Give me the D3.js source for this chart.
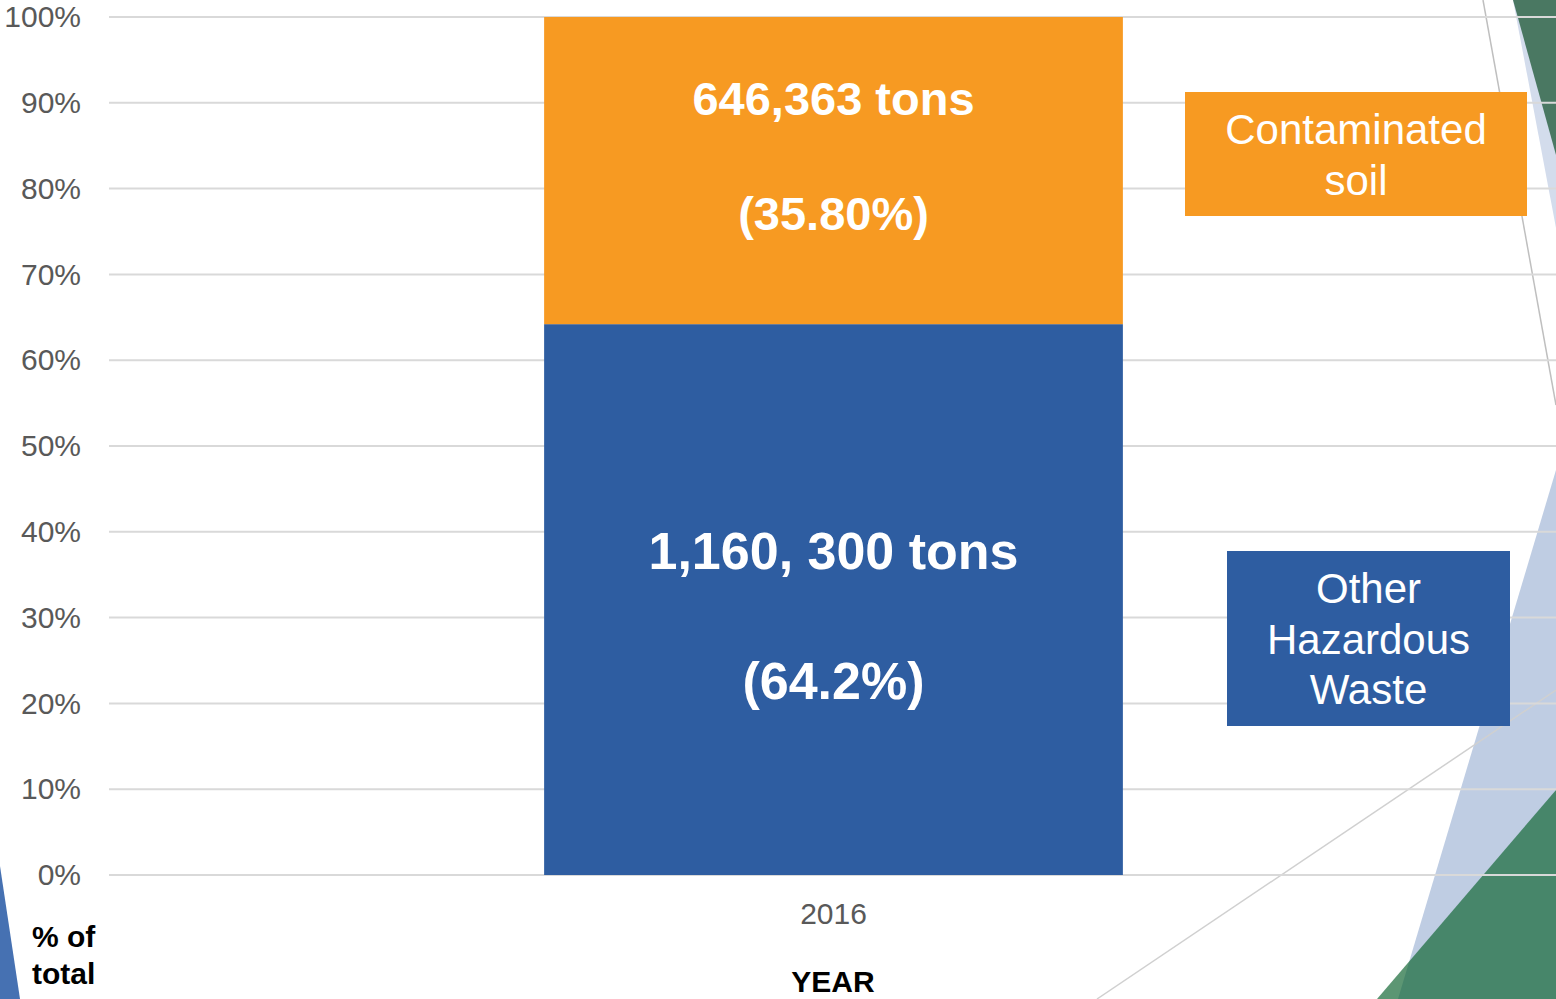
<!DOCTYPE html>
<html>
<head>
<meta charset="utf-8">
<script src="https://cdn.jsdelivr.net/npm/d3@7/dist/d3.min.js"></script>
<style>
  html, body { margin: 0; padding: 0; background: #ffffff; }
  svg { display: block; }
  text { font-family: "Liberation Sans", Arial, Helvetica, sans-serif; }
</style>
</head>
<body>
<svg id="chart" width="1556" height="999"></svg>
<script>
// ---- data ----
const categories = ["2016"];
const seriesNames = ["Other Hazardous Waste", "Contaminated soil"];
const seriesShares = [64.2, 35.8];               // % of total, stacked bottom to top
const tonnageLabels = ["1,160, 300 tons", "646,363 tons"];
const shareLabels = ["(64.2%)", "(35.80%)"];
const legendLines = [["Other", "Hazardous", "Waste"], ["Contaminated", "soil"]];
const yTicks = [0, 10, 20, 30, 40, 50, 60, 70, 80, 90, 100];

// ---- styling / layout ----
const W = 1556, H = 999;
const colors = ["#2E5DA1", "#F79A22"];
const svg = d3.select("#chart");

// decorative slide shapes behind the chart
const deco = svg.append("g");
deco.append("polygon").attr("points", "1513,0 1556,0 1556,228").attr("fill", "#d3dcec");
deco.append("polygon").attr("points", "1513,0 1556,0 1556,155").attr("fill", "#4a7862");
deco.append("line").attr("x1", 1483).attr("y1", 0).attr("x2", 1556).attr("y2", 405)
  .attr("stroke", "#bfbfbf").attr("stroke-width", 1.5);
deco.append("polygon").attr("points", "1556,470 1556,999 1398,999").attr("fill", "#bfcde3");
deco.append("line").attr("x1", 1097).attr("y1", 999).attr("x2", 1556).attr("y2", 690)
  .attr("stroke", "#d0d0d0").attr("stroke-width", 1.5);
deco.append("polygon").attr("points", "1556,790 1556,999 1377,999")
  .attr("fill", "#0f6431").attr("fill-opacity", 0.68);
deco.append("polygon").attr("points", "0,866 20,999 0,999").attr("fill", "#4671b2");

// ---- scales ----
const y = d3.scaleLinear().domain([0, 100]).range([875, 17]);
const x = d3.scaleBand().domain(categories).range([110, 1557])
  .paddingInner(0.4286).paddingOuter(0.4286);

// gridlines
svg.append("g").selectAll("line").data(yTicks).join("line")
  .attr("x1", 109).attr("x2", W)
  .attr("y1", d => y(d)).attr("y2", d => y(d))
  .attr("stroke", "#d9d9d9").attr("stroke-width", 2);

// y axis labels
const yAxis = d3.axisLeft(y).tickValues(yTicks).tickFormat(d => d + "%").tickSize(0).tickPadding(0);
const yg = svg.append("g").attr("transform", "translate(81,0)").call(yAxis);
yg.select(".domain").remove();
yg.selectAll("text").attr("font-size", 30).attr("fill", "#595959")
  .attr("font-family", "'Liberation Sans', Arial, sans-serif").attr("dy", "0.32em");

// x axis label
const xAxis = d3.axisBottom(x).tickSize(0).tickPadding(0);
const xg = svg.append("g").attr("transform", "translate(0,924)").call(xAxis);
xg.select(".domain").remove();
xg.selectAll("text").attr("font-size", 30).attr("fill", "#595959")
  .attr("font-family", "'Liberation Sans', Arial, sans-serif").attr("dy", 0);

// ---- stacked bars ----
const stackRows = categories.map(c => {
  const row = { cat: c };
  seriesNames.forEach((s, i) => row[s] = seriesShares[i]);
  return row;
});
const stacked = d3.stack().keys(seriesNames)(stackRows);

const layers = svg.append("g").selectAll("g").data(stacked).join("g")
  .attr("fill", (d, i) => colors[i]);
layers.selectAll("rect").data(d => d).join("rect")
  .attr("x", d => x(d.data.cat))
  .attr("width", x.bandwidth())
  .attr("y", d => y(d[1]))
  .attr("height", d => y(d[0]) - y(d[1]));

// value labels inside segments: [offset of segment centre, line gap, font size]
const labelLayout = [[16, 130, 52], [-15, 115, 47]];
stacked.forEach((layer, i) => {
  const seg = layer[0];
  const cx = x(seg.data.cat) + x.bandwidth() / 2;
  const cy = (y(seg[0]) + y(seg[1])) / 2 + labelLayout[i][0];
  const gap = labelLayout[i][1], fs = labelLayout[i][2];
  [tonnageLabels[i], shareLabels[i]].forEach((t, k) => {
    svg.append("text")
      .attr("x", cx).attr("y", cy + (k === 0 ? -gap / 2 : gap / 2))
      .attr("dy", "0.36em")
      .attr("text-anchor", "middle").attr("font-weight", "bold")
      .attr("font-size", fs).attr("fill", "#ffffff").text(t);
  });
});

// ---- legend boxes ----
const legendBoxes = [
  { x: 1227, y: 551, w: 283, h: 175, first: 603 },
  { x: 1185, y: 92, w: 342, h: 124, first: 144 }
];
legendBoxes.forEach((b, i) => {
  svg.append("rect").attr("x", b.x).attr("y", b.y).attr("width", b.w).attr("height", b.h)
    .attr("fill", colors[i]);
  legendLines[i].forEach((t, k) => {
    svg.append("text").attr("x", b.x + b.w / 2).attr("y", b.first + k * 50.5)
      .attr("text-anchor", "middle").attr("font-size", 42).attr("fill", "#ffffff").text(t);
  });
});

// ---- axis titles ----
svg.append("text").attr("x", 833).attr("y", 992).attr("text-anchor", "middle")
  .attr("font-weight", "bold").attr("font-size", 30).attr("fill", "#000000").text("YEAR");
svg.append("text").attr("x", 32).attr("y", 947)
  .attr("font-weight", "bold").attr("font-size", 30).attr("fill", "#000000").text("% of");
svg.append("text").attr("x", 32).attr("y", 984)
  .attr("font-weight", "bold").attr("font-size", 30).attr("fill", "#000000").text("total");
</script>
</body>
</html>
